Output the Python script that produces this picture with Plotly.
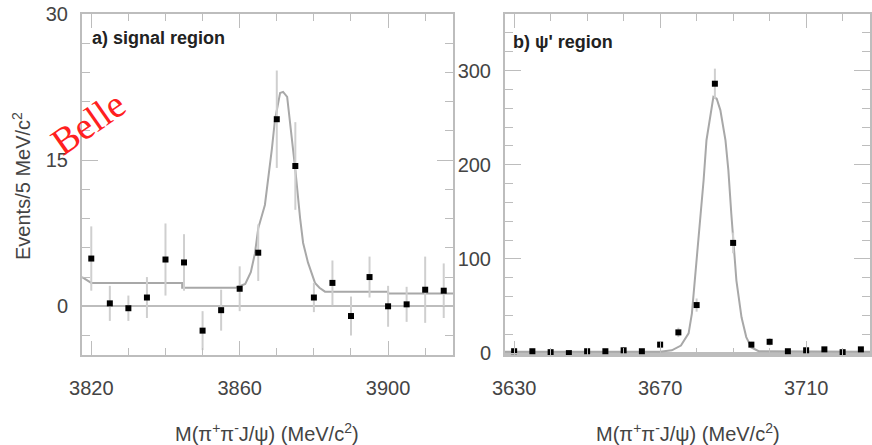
import plotly.graph_objects as go

# ---- data: a) signal region ----
a_x = [3820, 3825, 3830, 3835, 3840, 3845, 3850, 3855, 3860, 3865,
       3870, 3875, 3880, 3885, 3890, 3895, 3900, 3905, 3910, 3915]
a_y = [4.9, 0.3, -0.2, 0.9, 4.8, 4.5, -2.5, -0.4, 1.8, 5.5,
       19.2, 14.4, 0.9, 2.4, -1.0, 3.0, 0.0, 0.2, 1.7, 1.6]
a_err = [3.3, 1.8, 1.3, 2.1, 3.7, 2.9, 2.0, 2.1, 2.3, 2.9,
         5.0, 4.5, 1.5, 2.3, 2.0, 2.1, 2.1, 1.8, 3.4, 2.8]
fit_a_x = [3817.5, 3820, 3844.5, 3844.5, 3859, 3861.5, 3863, 3864.1, 3865, 3866.8,
           3868.7, 3869.5, 3870.9, 3871.7, 3872.8, 3873.6, 3875, 3876.3, 3877.1,
           3878.4, 3880.3, 3881.5, 3883, 3900, 3900, 3917.5]
fit_a_y = [3.0, 2.4, 2.4, 1.9, 1.9, 2.3, 3.5, 5.4, 8.0, 10.4,
           16.2, 19.1, 21.9, 22.0, 21.5, 18.9, 14.0, 9.0, 6.5,
           4.5, 2.4, 1.9, 1.5, 1.5, 1.3, 1.3]

# ---- data: b) psi' region ----
b_x = [3630, 3635, 3640, 3645, 3650, 3655, 3660, 3665, 3670, 3675,
       3680, 3685, 3690, 3695, 3700, 3705, 3710, 3715, 3720, 3725]
b_y = [2, 2, 1, 0, 2, 2, 3, 2, 9, 22, 51, 286, 117, 9, 12, 2, 3, 4, 1, 4]
b_err = [2, 2, 2, 2, 2, 2, 2, 2, 3, 5, 7, 16, 11, 3, 4, 2, 2, 2, 2, 2]
fit_b_x = [3627.5, 3670, 3673.2, 3675.7, 3677.8, 3678.7, 3679.2, 3680, 3681.1, 3681.9,
           3682.7, 3683.8, 3684.6, 3685.5, 3686.5, 3687.9, 3688.7, 3689.5, 3690.1,
           3690.9, 3692.3, 3693.6, 3695, 3697, 3727.5]
fit_b_y = [1.5, 1.5, 3, 8, 21, 42, 64, 99, 144, 183,
           226, 254, 272, 270, 258, 226, 194, 148, 120,
           77, 38, 17, 6, 2, 1.5]

LINE = "#bdbdbd"
FIT = "#a8a8a8"
ERR = "#cfcfcf"
TXT = "#444444"
FONT = "Liberation Sans, Arial, sans-serif"

fig = go.Figure()
fig.add_trace(go.Scatter(x=fit_a_x, y=fit_a_y, mode="lines",
                         line=dict(color=FIT, width=2), xaxis="x", yaxis="y",
                         showlegend=False, hoverinfo="skip"))
fig.add_trace(go.Scatter(x=a_x, y=a_y, mode="markers",
                         marker=dict(symbol="square", size=6, color="black"),
                         error_y=dict(type="data", array=a_err, color=ERR, thickness=2, width=0),
                         xaxis="x", yaxis="y", showlegend=False))
fig.add_trace(go.Scatter(x=fit_b_x, y=fit_b_y, mode="lines",
                         line=dict(color=FIT, width=2), xaxis="x2", yaxis="y2",
                         showlegend=False, hoverinfo="skip"))
fig.add_trace(go.Scatter(x=b_x, y=b_y, mode="markers",
                         marker=dict(symbol="square", size=6, color="black"),
                         error_y=dict(type="data", array=b_err, color=ERR, thickness=2, width=0),
                         xaxis="x2", yaxis="y2", showlegend=False))

W, H = 872, 445
yd = [(H - 355) / H, (H - 14) / H]

common = dict(showline=True, linecolor=LINE, linewidth=2, mirror="ticks",
              ticks="inside", tickcolor=LINE, tickwidth=1, showgrid=False,
              automargin=False,
              tickfont=dict(family=FONT, size=20, color=TXT))

fig.update_layout(
    width=W, height=H, margin=dict(l=0, r=0, t=0, b=0, autoexpand=False),
    paper_bgcolor="white", plot_bgcolor="white",
    xaxis=dict(domain=[82 / W, 453 / W], range=[3817.5, 3917.5], anchor="y",
               tick0=3820, dtick=40, ticklen=14, ticklabelstandoff=14,
               minor=dict(dtick=10, ticklen=7, ticks="inside", tickcolor=LINE, showgrid=False),
               zeroline=False, **common),
    yaxis=dict(domain=yd, range=[-5, 30], anchor="x",
               tick0=0, dtick=15, ticklen=16, ticklabelstandoff=8,
               minor=dict(dtick=3, ticklen=8, ticks="inside", tickcolor=LINE, showgrid=False),
               zeroline=True, zerolinecolor=LINE, zerolinewidth=2, **common),
    xaxis2=dict(domain=[505 / W, 870 / W], range=[3627.5, 3727.5], anchor="y2",
                tick0=3630, dtick=40, ticklen=14, ticklabelstandoff=14,
                minor=dict(dtick=10, ticklen=7, ticks="inside", tickcolor=LINE, showgrid=False),
                zeroline=False, **common),
    yaxis2=dict(domain=yd, range=[-2, 360], anchor="x2",
                tick0=0, dtick=100, ticklen=16, ticklabelstandoff=8,
                minor=dict(dtick=20, ticklen=8, ticks="inside", tickcolor=LINE, showgrid=False),
                zeroline=True, zerolinecolor=LINE, zerolinewidth=3, **common),
)

def px_ann(text, x, y, size, color=TXT, angle=0, family=FONT, xanchor="center"):
    fig.add_annotation(text=text, x=x / W, y=1 - y / H, xref="paper", yref="paper",
                       showarrow=False, textangle=angle, xanchor=xanchor, yanchor="middle",
                       font=dict(family=family, size=size, color=color))

px_ann("<b>a) signal region</b>", 90, 38, 18, color="#222222", xanchor="left")
px_ann("<b>b) ψ' region</b>", 511, 42, 18, color="#222222", xanchor="left")
px_ann("Events/5 MeV/c<sup>2</sup>", 21, 186, 20, angle=-90)
px_ann("M(π<sup>+</sup>π<sup>-</sup>J/ψ) (MeV/c<sup>2</sup>)", 267, 432, 20)
px_ann("M(π<sup>+</sup>π<sup>-</sup>J/ψ) (MeV/c<sup>2</sup>)", 688, 432, 20)
px_ann("Belle", 88, 123, 38, color="#ff2020", angle=-35,
       family="Liberation Serif, Times New Roman, serif")

fig.write_html("out.html")
